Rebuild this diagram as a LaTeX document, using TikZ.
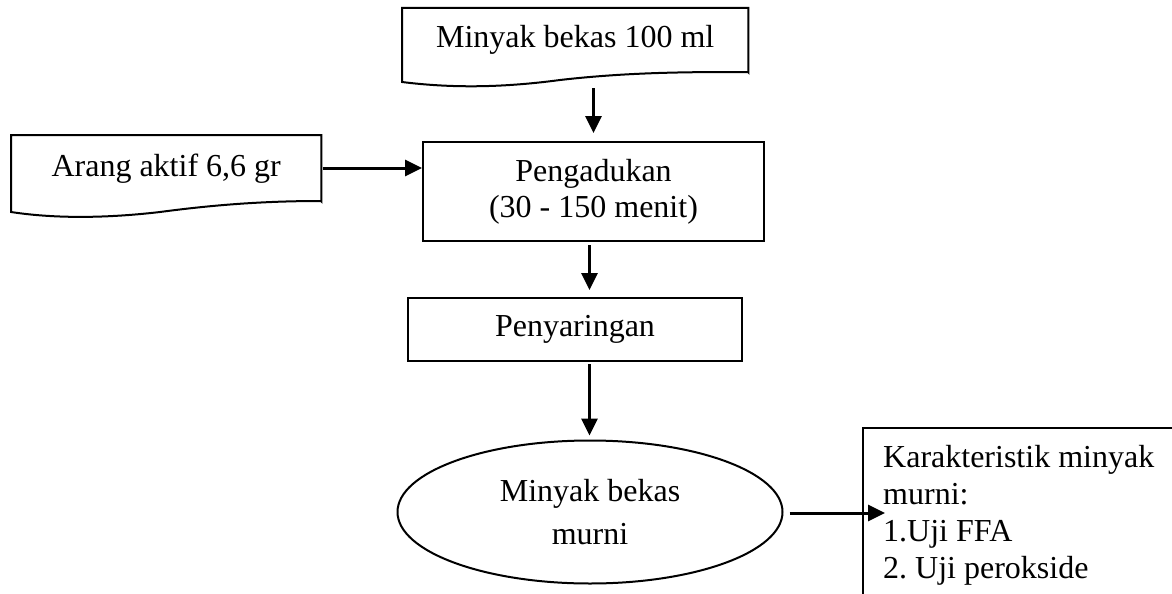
\documentclass[tikz,border=0pt]{standalone}
\usepackage{fontspec}
\setmainfont{Liberation Serif}
\frenchspacing
\usetikzlibrary{shapes.geometric,arrows.meta,calc}
\begin{document}
\begin{tikzpicture}[x=1pt,y=-1pt,
  box/.style={draw, line width=2pt, rectangle, inner sep=0pt, align=center, font=\fontsize{32}{36}\selectfont},
  plain/.style={draw=none, rectangle, inner sep=0pt, align=center, font=\fontsize{32}{36}\selectfont},
  wave/.style={draw, line width=2pt, line join=miter},
  arr/.style={line width=3pt, -{Triangle[length=17pt,width=16pt]}}]
\useasboundingbox (0,0) rectangle (1172,594);
\clip (0,0) rectangle (1172,594);
% document shape 1
\node[plain, minimum width=346pt, minimum height=64pt, anchor=north west] (d1) at (402,8) {Minyak bekas 100 ml};
\draw[wave] (d1.south east) -- (d1.north east) -- (d1.north west) -- (402,82)
  .. controls (450,88) and (500,88) .. (560,80)
  .. controls (630,72) and (690,72) .. (748,72) -- cycle;
% document shape 2
\node[plain, minimum width=310pt, minimum height=66pt, anchor=north west] (ar) at (11,135) {Arang aktif 6,6 gr};
\draw[wave] (ar.south east) -- (ar.north east) -- (ar.north west) -- (11,212)
  .. controls (50,218) and (100,219) .. (160,212)
  .. controls (220,204) and (270,201) .. (321,201) -- cycle;
% process boxes
\node[box, minimum width=341pt, minimum height=99pt, anchor=north west] (pg) at (422,141) {Pengadukan\\(30 - 150 menit)};
\node[box, minimum width=334pt, minimum height=63pt, anchor=north west] (py) at (407,297) {Penyaringan};
\node[draw, ellipse, line width=2pt, minimum width=385pt, minimum height=143pt, inner sep=0pt, align=center,
  font=\fontsize{32}{43}\selectfont] (el) at (590,512) {Minyak bekas\\murni};
% characteristics box (cut off by page)
\node[draw, line width=2pt, rectangle, minimum width=400pt, minimum height=260pt, anchor=north west] (chbox) at (862,427) {};
\node[anchor=north west, inner sep=0pt, align=left, font=\fontsize{32}{37}\selectfont] (ch) at (883,445)
  {Karakteristik minyak\\murni:\\1.Uji FFA\\2. Uji perokside};
% connectors
\draw[arr] ($(pg.north |- d1.south)+(0,16)$) -- ([yshift=8pt]pg.north);
\draw[arr] ([xshift=2pt]ar.east |- 0,168) -- (pg.west |- 0,168);
\draw[arr] ($(pg.south)+(-4,3)$) -- ($(py.north -| pg.south)+(-4,-7)$);
\draw[arr] ($(py.south -| pg.south)+(-4,2)$) -- ($(el.north -| pg.south)+(-4,-4)$);
\draw[arr] ($(el.east)+(6,1)$) -- ($(el.east -| chbox.west)+(23,1)$);
\end{tikzpicture}
\end{document}
